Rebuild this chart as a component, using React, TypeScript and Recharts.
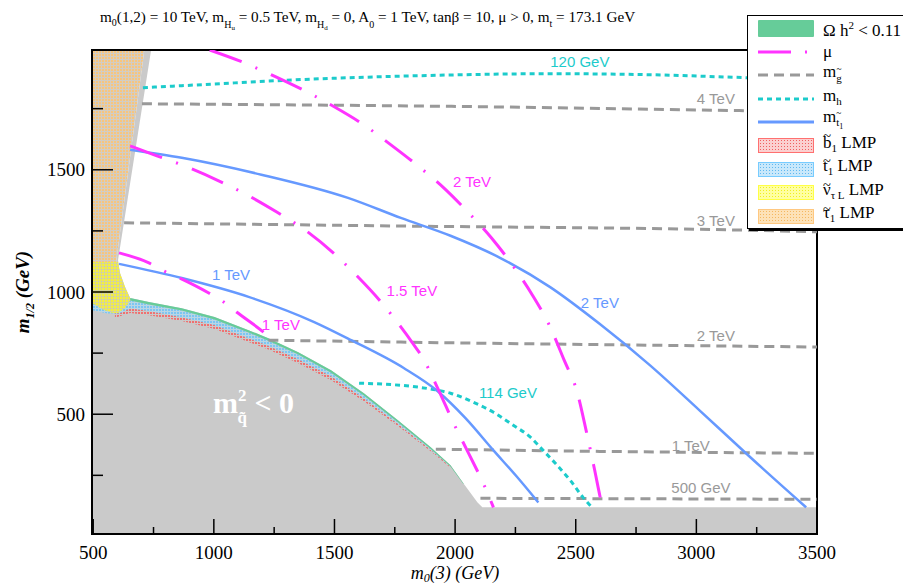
import React from "react";
import { ComposedChart, Line, Area, Scatter, XAxis, YAxis, ReferenceArea } from "recharts";

const SERIF = '"Liberation Serif", "Times New Roman", serif';
const SANS = '"Liberation Sans", Arial, sans-serif';

const COLORS: Record<string, string> = {
  mu: "#ff33ff",
  gluino: "#999999",
  higgs: "#1ccbcb",
  stop: "#6699ff",
  relic: "#66cc99",
  excluded: "#cacaca",
};

// axis ticks (m0(3) and m1/2 in GeV)
const M0_TICKS = [500, 750, 1000, 1250, 1500, 1750, 2000, 2250, 2500, 2750, 3000, 3250, 3500];
const M0_LABELS = [500, 1000, 1500, 2000, 2500, 3000, 3500];
const M12_TICKS = [250, 500, 750, 1000, 1250, 1500, 1750];
const M12_LABELS = [500, 1000, 1500];

// excluded region, outline [m0, m1/2]; it runs round the stau LMP corner
const EXCLUDED: [number, number][] = [
  [495, 1123], [595, 1123], [712, 1990], [740, 1990], [603, 1131], [611, 1078],
  [632, 1020], [653, 975], [731, 959], [867, 934], [1003, 898], [1144, 844],
  [1226, 811], [1350, 754], [1486, 680], [1622, 586], [1763, 475], [1899, 365],
  [1981, 291], [2035, 217], [2093, 139], [2113, 119], [3500, 119],
];

// stau LMP and sneutrino LMP regions, outlines [m0, m1/2]
const STAU_LMP: [number, number][] = [[495, 1990], [712, 1990], [595, 1123], [495, 1123]];
const SNU_LMP: [number, number][] = [
  [495, 1123], [603, 1123], [611, 1078], [632, 1020], [653, 975], [653, 965],
  [632, 935], [611, 920], [603, 914], [580, 914], [540, 928], [495, 955],
];

// bands along the excluded boundary, [m0, low, high]
const SBOTTOM_LMP: [number, number, number][] = [
  [590, 895, 915], [653, 914, 934], [731, 905, 922], [867, 881, 897], [1003, 849, 865],
  [1144, 795, 811], [1226, 765, 780], [1350, 709, 725], [1486, 639, 655],
  [1622, 553, 565], [1763, 452, 461], [1899, 349, 355], [1981, 281, 285],
];
const STOP_LMP: [number, number, number][] = [
  [495, 925, 955], [560, 912, 945], [610, 912, 960], [653, 934, 965], [731, 922, 949],
  [867, 897, 924], [1003, 865, 888], [1144, 811, 834], [1226, 780, 801],
  [1350, 725, 744], [1486, 655, 670], [1622, 565, 577], [1763, 461, 467],
  [1899, 355, 358], [1981, 285, 286],
];
const RELIC: [number, number, number][] = [
  [653, 965, 975], [731, 949, 959], [867, 924, 934], [1003, 888, 898], [1144, 834, 844],
  [1226, 801, 811], [1350, 744, 754], [1486, 670, 680], [1622, 577, 586],
  [1763, 467, 475], [1899, 358, 365], [1981, 286, 291], [2035, 214, 217],
];

// mu contours
const MU_1000: [number, number][] = [
  [607, 1160], [731, 1119], [793, 1086], [859, 1057], [979, 996], [1041, 959],
  [1094, 918], [1206, 836], [1230, 816],
];
const MU_1500: [number, number][] = [
  [653, 1598], [764, 1557], [888, 1512], [1020, 1455], [1136, 1398], [1259, 1328],
  [1383, 1250], [1495, 1160], [1589, 1070], [1693, 959], [1775, 857], [1821, 795],
  [1866, 730], [1932, 598], [1994, 463], [2056, 340], [2126, 197], [2159, 119],
];
const MU_2000: [number, number][] = [
  [983, 1990], [1123, 1939], [1255, 1881], [1375, 1824], [1499, 1758], [1614, 1689],
  [1734, 1602], [1841, 1520], [1953, 1426], [2052, 1328], [2151, 1221], [2237, 1111],
  [2320, 988], [2390, 865], [2452, 721], [2506, 590], [2543, 434], [2576, 283],
  [2609, 127], [2611, 119],
];

// gluino mass contours
const GLUINO_4000: [number, number][] = [[702, 1770], [2105, 1758], [3178, 1742], [3500, 1738]];
const GLUINO_3000: [number, number][] = [[628, 1283], [1775, 1270], [3149, 1254], [3500, 1246]];
const GLUINO_2000: [number, number][] = [[1226, 803], [1775, 795], [3500, 775]];
const GLUINO_1000: [number, number][] = [[1920, 357], [2600, 348], [3500, 340]];
const GLUINO_500: [number, number][] = [[2105, 156], [3500, 152]];

// light higgs mass contours
const HIGGS_120: [number, number][] = [
  [706, 1836], [867, 1844], [1362, 1869], [1858, 1885], [2394, 1893], [2807, 1889],
  [3203, 1877], [3500, 1869],
];
const HIGGS_114: [number, number][] = [
  [1602, 627], [1705, 623], [1845, 611], [1928, 598], [1981, 586], [2076, 549],
  [2159, 508], [2241, 455], [2312, 406], [2365, 352], [2423, 291], [2477, 230],
  [2530, 160], [2567, 119],
];

// stop1 mass contours
const STOP_1000: [number, number][] = [
  [607, 1115], [867, 1057], [1144, 980], [1416, 877], [1569, 803], [1787, 689],
  [1928, 594], [2043, 484], [2159, 352], [2258, 242], [2345, 139],
];
const STOP_2000: [number, number][] = [
  [653, 1582], [867, 1549], [1197, 1480], [1556, 1385], [1775, 1303], [1981, 1230],
  [2188, 1139], [2394, 1020], [2600, 869], [2807, 701], [3013, 516], [3219, 328],
  [3455, 119],
];

const CURVE_LABELS = [
  { text: "120 GeV", kind: "higgs", m0: 2517, m12: 1943 },
  { text: "4 TeV", kind: "gluino", m0: 3081, m12: 1791 },
  { text: "2 TeV", kind: "mu", m0: 2070, m12: 1451 },
  { text: "3 TeV", kind: "gluino", m0: 3081, m12: 1291 },
  { text: "1 TeV", kind: "stop", m0: 1071, m12: 1070 },
  { text: "1.5 TeV", kind: "mu", m0: 1821, m12: 1004 },
  { text: "2 TeV", kind: "stop", m0: 2600, m12: 955 },
  { text: "1 TeV", kind: "mu", m0: 1278, m12: 865 },
  { text: "2 TeV", kind: "gluino", m0: 3081, m12: 820 },
  { text: "114 GeV", kind: "higgs", m0: 2219, m12: 586 },
  { text: "1 TeV", kind: "gluino", m0: 2977, m12: 373 },
  { text: "500 GeV", kind: "gluino", m0: 3019, m12: 201 },
];
const REGION_LABEL = [{ m0: 1179, m12: 537 }];

const pts = (a: [number, number][]) => a.map(([x, y]) => ({ x, y }));
const band = (a: [number, number, number][]) => a.map(([x, lo, hi]) => ({ x, r: [lo, hi] }));

const XTick = (props: any) => {
  const { x, y, payload } = props;
  const major = M0_LABELS.includes(payload.value);
  return (
    <g>
      <line x1={x} x2={x} y1={y} y2={y - (major ? 15 : 7)} stroke="#000" strokeWidth={1.5} />
      {major && (
        <text x={x} y={y + 25} textAnchor="middle" fontFamily={SERIF} fontSize={19} fill="#000">
          {payload.value}
        </text>
      )}
    </g>
  );
};

const YTick = (props: any) => {
  const { x, y, payload } = props;
  const major = M12_LABELS.includes(payload.value);
  return (
    <g>
      <line x1={x} x2={x + (major ? 21 : 11)} y1={y} y2={y} stroke="#000" strokeWidth={1.5} />
      {major && (
        <text x={x - 7} y={y} dy="0.35em" textAnchor="end" fontFamily={SERIF} fontSize={19} fill="#000">
          {payload.value}
        </text>
      )}
    </g>
  );
};

const curveLabel = (p: any) => {
  const d = p.payload;
  return (
    <text x={p.cx} y={p.cy} dy="0.35em" textAnchor="middle" fontFamily={SANS} fontSize={15} fill={COLORS[d.kind]}>
      {d.text}
    </text>
  );
};

const regionLabel = (p: any) => (
  <text x={p.cx - 44} y={p.cy + 8} fontFamily={SERIF} fontWeight="bold" fontSize={30} fill="#fff">
    m<tspan fontSize={17} dy={-12}>2</tspan>
    <tspan fontSize={17} dx={-9} dy={22}>q&#771;</tspan>
    <tspan dy={-10}> &lt; 0</tspan>
  </text>
);

const lineProps = {
  dataKey: "y",
  type: "monotone" as const,
  dot: false,
  activeDot: false,
  isAnimationActive: false,
  legendType: "none" as const,
  strokeWidth: 3,
};

const areaProps = {
  type: "linear" as const,
  stroke: "none",
  fillOpacity: 1,
  dot: false,
  activeDot: false,
  isAnimationActive: false,
  legendType: "none" as const,
};

const swatch = (bg: string, dot: string, border: string) => ({
  width: 56,
  height: 15,
  boxSizing: "border-box" as const,
  border: `1.5px solid ${border}`,
  backgroundColor: bg,
  backgroundImage: `radial-gradient(${dot} 0.9px, transparent 1px)`,
  backgroundSize: "3px 3px",
});

// letter with a tilde drawn above it
const Tl = ({ c, size = 17, up = 0.15 }: { c: string; size?: number; up?: number }) => (
  <span style={{ position: "relative", display: "inline-block" }}>
    {c}
    <span
      style={{
        position: "absolute",
        left: 0,
        right: 0,
        top: -size * up,
        textAlign: "center",
        fontSize: size * 0.85,
        lineHeight: 1,
      }}
    >
      ~
    </span>
  </span>
);

const LEGEND_ROWS = [
  { key: "relic", label: <>Ω h<sup style={{ fontSize: 11 }}>2</sup> &lt; 0.11</> },
  { key: "mu", label: <>μ</> },
  { key: "gluino", label: <>m<sub style={{ fontSize: 11 }}><Tl c="g" size={11} up={0.3} /></sub></> },
  { key: "higgs", label: <>m<sub style={{ fontSize: 11 }}>h</sub></> },
  { key: "stop", label: <>m<sub style={{ fontSize: 11 }}><Tl c="t" size={11} up={0.4} /><sub style={{ fontSize: 8 }}>1</sub></sub></> },
  { key: "sbottom", label: <><Tl c="b" up={0.3} /><sub style={{ fontSize: 11 }}>1</sub> LMP</> },
  { key: "stoplmp", label: <><Tl c="t" up={0.2} /><sub style={{ fontSize: 11 }}>1</sub> LMP</> },
  { key: "snu", label: <><Tl c="ν" /><sub style={{ fontSize: 11 }}>τ L</sub> LMP</> },
  { key: "stau", label: <><Tl c="τ" /><sub style={{ fontSize: 11 }}>1</sub> LMP</> },
];

const legendSymbol = (key: string) => {
  const ln = (color: string, dash?: string) => (
    <svg width={56} height={8}>
      <line x1={0} x2={56} y1={4} y2={4} stroke={color} strokeWidth={3} strokeDasharray={dash} />
    </svg>
  );
  switch (key) {
    case "relic":
      return <div style={{ width: 56, height: 17, background: COLORS.relic, borderRadius: 1 }} />;
    case "mu":
      return ln(COLORS.mu, "33 14 2 20");
    case "gluino":
      return ln(COLORS.gluino, "10 6");
    case "higgs":
      return ln(COLORS.higgs, "5 4");
    case "stop":
      return ln(COLORS.stop);
    case "sbottom":
      return <div style={swatch("#fbd0d0", "#f06060", "#ff7070")} />;
    case "stoplmp":
      return <div style={swatch("#c8e8fb", "#60b8f0", "#77ccff")} />;
    case "snu":
      return <div style={swatch("#ffffa0", "#f0f020", "#ffff44")} />;
    default:
      return <div style={swatch("#fde2b8", "#f5b860", "#ffc880")} />;
  }
};

export default function App() {
  return (
    <div style={{ position: "relative", width: 903, height: 587, background: "#fff", overflow: "hidden" }}>
      <style>{"body{margin:0}"}</style>
      <ComposedChart width={903} height={587} margin={{ top: 50, right: 86, bottom: 13, left: 32 }}>
        <defs>
          <pattern id="pStau" width="3" height="3" patternUnits="userSpaceOnUse">
            <rect width="3" height="3" fill="#d2cdc4" />
            <rect width="2" height="2" fill="#f7c57e" />
          </pattern>
          <pattern id="pSnu" width="3" height="3" patternUnits="userSpaceOnUse">
            <rect width="3" height="3" fill="#d4d49a" />
            <rect width="2" height="2" fill="#f6f03a" />
          </pattern>
          <pattern id="pStop" width="3" height="3" patternUnits="userSpaceOnUse">
            <rect width="3" height="3" fill="#b9d6e6" />
            <rect width="2" height="2" fill="#7cc6f2" />
          </pattern>
          <pattern id="pSbot" width="3" height="3" patternUnits="userSpaceOnUse">
            <rect width="2" height="2" fill="#f07070" />
          </pattern>
        </defs>
        <XAxis
          type="number"
          dataKey="x"
          domain={[495, 3500]}
          ticks={M0_TICKS}
          interval={0}
          allowDataOverflow
          height={40}
          tickSize={0}
          tickMargin={0}
          tickLine={false}
          tick={(p: any) => <XTick {...p} />}
          axisLine={{ stroke: "#000", strokeWidth: 2 }}
        />
        <YAxis
          type="number"
          domain={[10, 1990]}
          ticks={M12_TICKS}
          interval={0}
          allowDataOverflow
          width={60}
          tickSize={0}
          tickMargin={0}
          tickLine={false}
          tick={(p: any) => <YTick {...p} />}
          axisLine={{ stroke: "#000", strokeWidth: 2 }}
        />

        <Area {...areaProps} data={pts(STAU_LMP)} dataKey="y" fill="url(#pStau)" />
        <Area {...areaProps} data={pts(EXCLUDED)} dataKey="y" fill={COLORS.excluded} />
        <Area {...areaProps} data={band(SBOTTOM_LMP)} dataKey="r" fill="url(#pSbot)" />
        <Area {...areaProps} data={band(STOP_LMP)} dataKey="r" fill="url(#pStop)" />
        <Area {...areaProps} data={band(RELIC)} dataKey="r" fill={COLORS.relic} />
        <Area {...areaProps} data={pts(SNU_LMP)} dataKey="y" fill="url(#pSnu)" />

        <Line {...lineProps} data={pts(GLUINO_4000)} stroke={COLORS.gluino} strokeDasharray="10 6" />
        <Line {...lineProps} data={pts(GLUINO_3000)} stroke={COLORS.gluino} strokeDasharray="10 6" />
        <Line {...lineProps} data={pts(GLUINO_2000)} stroke={COLORS.gluino} strokeDasharray="10 6" />
        <Line {...lineProps} data={pts(GLUINO_1000)} stroke={COLORS.gluino} strokeDasharray="10 6" />
        <Line {...lineProps} data={pts(GLUINO_500)} stroke={COLORS.gluino} strokeDasharray="10 6" />

        <Line {...lineProps} data={pts(HIGGS_120)} stroke={COLORS.higgs} strokeDasharray="5 4" />
        <Line {...lineProps} data={pts(HIGGS_114)} stroke={COLORS.higgs} strokeDasharray="5 4" />

        <Line {...lineProps} data={pts(STOP_1000)} stroke={COLORS.stop} strokeWidth={2.5} />
        <Line {...lineProps} data={pts(STOP_2000)} stroke={COLORS.stop} strokeWidth={2.5} />

        <Line {...lineProps} data={pts(MU_1000)} stroke={COLORS.mu} strokeDasharray="34 15 2 15" />
        <Line {...lineProps} data={pts(MU_1500)} stroke={COLORS.mu} strokeDasharray="34 15 2 15" />
        <Line {...lineProps} data={pts(MU_2000)} stroke={COLORS.mu} strokeDasharray="34 15 2 15" />

        <Scatter
          data={CURVE_LABELS.map((l) => ({ x: l.m0, y: l.m12, text: l.text, kind: l.kind }))}
          dataKey="y"
          shape={curveLabel}
          isAnimationActive={false}
          legendType="none"
        />
        <Scatter
          data={REGION_LABEL.map((l) => ({ x: l.m0, y: l.m12 }))}
          dataKey="y"
          shape={regionLabel}
          isAnimationActive={false}
          legendType="none"
        />

        <ReferenceArea x1={495} x2={3500} y1={10} y2={1990} fill="none" stroke="#000" strokeWidth={2} ifOverflow="visible" />
      </ComposedChart>

      <svg width={903} height={587} style={{ position: "absolute", left: 0, top: 0, pointerEvents: "none" }}>
        <text x={100} y={22} fontFamily={SERIF} fontSize={15.2} fill="#000">
          m<tspan fontSize={10} dy={4}>0</tspan>
          <tspan dy={-4}>(1,2) = 10 TeV, m</tspan>
          <tspan fontSize={10} dy={6}>H</tspan>
          <tspan fontSize={7} dy={2}>u</tspan>
          <tspan dy={-8}> = 0.5 TeV, m</tspan>
          <tspan fontSize={10} dy={6}>H</tspan>
          <tspan fontSize={7} dy={2}>d</tspan>
          <tspan dy={-8}> = 0, A</tspan>
          <tspan fontSize={10} dy={6}>0</tspan>
          <tspan dy={-6}> = 1 TeV, tanβ = 10, μ &gt; 0, m</tspan>
          <tspan fontSize={10} dy={5}>t</tspan>
          <tspan dy={-5}> = 173.1 GeV</tspan>
        </text>
        <text x={455} y={579} textAnchor="middle" fontFamily={SERIF} fontStyle="italic" fontSize={18} fill="#000">
          m<tspan fontSize={12} dy={3}>0</tspan>
          <tspan dy={-3}>(3) (GeV)</tspan>
        </text>
        <text
          transform="translate(29,292) rotate(-90)"
          textAnchor="middle"
          fontFamily={SERIF}
          fontStyle="italic"
          fontWeight="bold"
          fontSize={19}
          fill="#000"
        >
          m<tspan fontSize={12} dy={5}>1/2</tspan>
          <tspan dy={-5}> (GeV)</tspan>
        </text>
      </svg>

      <div
        style={{
          position: "absolute",
          left: 747,
          top: 15,
          width: 156,
          height: 212,
          background: "#fff",
          border: "1px solid #000",
          borderRight: "none",
          boxShadow: "2px 2px 0 #000",
          fontFamily: SERIF,
          fontSize: 17,
          color: "#000",
        }}
      >
        {LEGEND_ROWS.map((row, i) => (
          <div
            key={row.key}
            style={{
              position: "absolute",
              left: 10,
              top: i * 23.5,
              height: 24,
              display: "flex",
              alignItems: "center",
              whiteSpace: "nowrap",
            }}
          >
            <div style={{ width: 56, display: "flex", justifyContent: "center" }}>{legendSymbol(row.key)}</div>
            <div style={{ marginLeft: 9, lineHeight: "18px" }}>{row.label}</div>
          </div>
        ))}
      </div>
    </div>
  );
}
